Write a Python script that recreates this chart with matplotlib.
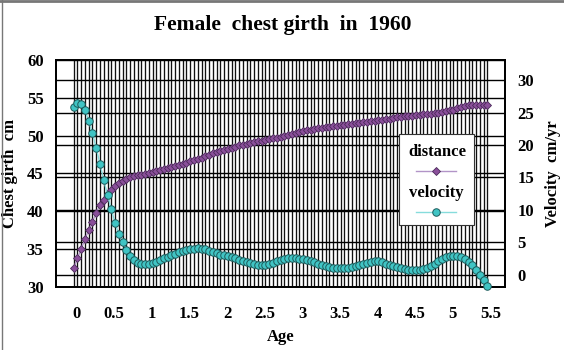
import numpy as np
import matplotlib
matplotlib.use("Agg")
import matplotlib.pyplot as plt
from matplotlib.lines import Line2D
from matplotlib.patches import Rectangle
from matplotlib.transforms import blended_transform_factory, ScaledTranslation

plt.rcParams['font.family'] = ['Liberation Serif', 'DejaVu Serif']
plt.rcParams['font.weight'] = 'bold'

# ages (years), one category every 0.05 yr
ages = np.round(np.arange(111) * 0.05, 2)

# chest girth distance (cm), left axis
distance = [
    32.5, 33.8, 35.0, 36.35, 37.5, 38.65, 39.8, 40.8, 41.5, 42.3,
    42.85, 43.35, 43.75, 44.05, 44.3, 44.5, 44.65, 44.75, 44.85, 44.95,
    45.05, 45.15, 45.3, 45.4, 45.55, 45.7, 45.85, 46.0, 46.15, 46.3,
    46.45, 46.6, 46.8, 46.95, 47.1, 47.3, 47.45, 47.65, 47.8, 47.95,
    48.1, 48.25, 48.4, 48.55, 48.7, 48.8, 48.95, 49.05, 49.15, 49.25,
    49.35, 49.45, 49.55, 49.65, 49.75, 49.85, 49.95, 50.05, 50.2, 50.35,
    50.5, 50.6, 50.7, 50.8, 50.85, 50.95, 51.0, 51.1, 51.2, 51.25,
    51.3, 51.4, 51.45, 51.5, 51.6, 51.65, 51.7, 51.8, 51.85, 51.9,
    52.0, 52.05, 52.1, 52.2, 52.25, 52.3, 52.4, 52.45, 52.55, 52.6,
    52.65, 52.7, 52.75, 52.8, 52.85, 52.9, 53.0, 53.05, 53.15, 53.25,
    53.35, 53.45, 53.6, 53.75, 53.9, 54.05, 54.1, 54.1, 54.1, 54.1,
    54.1,
]

# growth velocity (cm/yr), right axis
velocity = [
    25.9, 26.5, 26.3, 25.4, 23.7, 21.8, 19.5, 17.1, 14.6, 12.3,
    10.1, 8.05, 6.3, 5.0, 3.85, 2.9, 2.3, 1.9, 1.7, 1.65,
    1.7, 1.85, 2.05, 2.3, 2.55, 2.8, 3.05, 3.3, 3.5, 3.7,
    3.85, 3.95, 4.05, 4.1, 4.05, 3.95, 3.75, 3.55, 3.35, 3.15,
    3.0, 2.9, 2.75, 2.55, 2.35, 2.15, 2.0, 1.85, 1.7, 1.6,
    1.55, 1.6, 1.7, 1.9, 2.1, 2.3, 2.45, 2.55, 2.55, 2.55,
    2.5, 2.4, 2.3, 2.15, 1.95, 1.75, 1.55, 1.35, 1.2, 1.1,
    1.0, 1.0, 1.05, 1.15, 1.2, 1.35, 1.5, 1.7, 1.85, 2.0,
    2.1, 2.1, 1.95, 1.75, 1.55, 1.35, 1.2, 1.05, 0.9, 0.8,
    0.75, 0.75, 0.75, 0.85, 1.05, 1.35, 1.75, 2.15, 2.45, 2.75,
    2.9, 2.95, 2.95, 2.75, 2.45, 2.0, 1.5, 0.77, 0.0, -0.77,
    -1.7,
]

x_ticks = [0, 0.5, 1, 1.5, 2, 2.5, 3, 3.5, 4, 4.5, 5, 5.5]
x_ticklabels = ['0', '0.5', '1', '1.5', '2', '2.5', '3', '3.5', '4', '4.5', '5', '5.5']
left_ticks = [30, 35, 40, 45, 50, 55, 60]
right_ticks = [0, 5, 10, 15, 20, 25, 30]

DIST_LINE, DIST_FILL, DIST_EDGE = '#b294c7', '#8a4f9a', '#4b2a5a'
VEL_LINE, VEL_FILL, VEL_EDGE = '#86dcdc', '#40c4c4', '#1d5a5a'

fig = plt.figure(figsize=(5.64, 3.5), dpi=100)
ax = fig.add_axes([0.0993, 0.18, 0.7961, 0.6486])
ax2 = ax.twinx()

ax.set_xlim(-0.235, 5.735)
ax.set_ylim(30, 60)
ax2.set_ylim(-1.85, 33.08)

# grid: one vertical line per category, horizontal lines for both axes
for a in ages:
    ax.axvline(a, color='#111111', lw=0.95, zorder=1)
for t in left_ticks:
    ax.axhline(t, color='black', lw=1.0, zorder=1)
tr = blended_transform_factory(ax.transAxes, ax2.transData)
for t in right_ticks:
    ax.plot([0, 1], [t, t], transform=tr, color='black', lw=1.0, zorder=1)

ax.plot(ages, distance, color=DIST_LINE, lw=1.0, marker='D', ms=3.9,
        mfc=DIST_FILL, mec=DIST_EDGE, mew=0.6, zorder=3)
ax2.plot(ages, velocity, color=VEL_LINE, lw=1.0, marker='o', ms=5.4,
         mfc=VEL_FILL, mec=VEL_EDGE, mew=0.7, zorder=3, clip_on=False)

tick_font = dict(fontsize=12, fontweight='bold')
ax.set_xticks(x_ticks)
ax.set_xticklabels(x_ticklabels, **tick_font)
ax.set_yticks(left_ticks)
ax.set_yticklabels([str(t) for t in left_ticks], **tick_font)
ax2.set_yticks(right_ticks)
ax2.set_yticklabels([str(t) for t in right_ticks], **tick_font)
ax.tick_params(axis='x', length=0, pad=14)
ax.tick_params(axis='y', length=0, pad=9)
ax2.tick_params(axis='y', length=0, pad=9)
shift = ScaledTranslation(3 / 100, 0, fig.dpi_scale_trans)
for lbl in ax.get_xticklabels():
    lbl.set_transform(lbl.get_transform() + shift)

for a in (ax, ax2):
    for s in a.spines.values():
        s.set_linewidth(1.3)
        s.set_color('black')
ax2.patch.set_visible(False)

ax.set_xlabel('Age', fontsize=12, fontweight='bold', labelpad=5)
ax.set_ylabel('Chest girth  cm', fontsize=12, fontweight='bold', labelpad=6)
ax2.set_ylabel('Velocity  cm/yr', fontsize=12, fontweight='bold', labelpad=8)
fig.text(0.502, 0.928, 'Female  chest girth  in  1960', ha='center', va='center',
         fontsize=15.5, fontweight='bold')

# legend: label above each handle
ax2.add_patch(Rectangle((0.764, 0.273), 0.167, 0.401, transform=ax2.transAxes,
                        facecolor='white', edgecolor='#333333', lw=0.8, zorder=10))
ax2.text(0.850, 0.596, 'distance', transform=ax2.transAxes, ha='center', va='center',
         fontsize=12, fontweight='bold', zorder=11)
ax2.add_line(Line2D([0.802, 0.891], [0.511, 0.511], transform=ax2.transAxes,
                    color=DIST_LINE, lw=1.0, zorder=11))
ax2.add_line(Line2D([0.846], [0.511], transform=ax2.transAxes, ls='none', marker='D',
                    ms=3.9, mfc=DIST_FILL, mec=DIST_EDGE, mew=0.6, zorder=12))
ax2.text(0.848, 0.415, 'velocity', transform=ax2.transAxes, ha='center', va='center',
         fontsize=12, fontweight='bold', zorder=11)
ax2.add_line(Line2D([0.802, 0.891], [0.329, 0.329], transform=ax2.transAxes,
                    color=VEL_LINE, lw=1.0, zorder=11))
ax2.add_line(Line2D([0.846], [0.329], transform=ax2.transAxes, ls='none', marker='o',
                    ms=5.4, mfc=VEL_FILL, mec=VEL_EDGE, mew=0.7, zorder=12))

# outer chart frame (top and left edges show)
fig.add_artist(Line2D([0, 1], [0.996, 0.996], transform=fig.transFigure, color='#777777', lw=2.0))
fig.add_artist(Line2D([0.004, 0.004], [0, 1], transform=fig.transFigure, color='#777777', lw=1.0))

fig.savefig('out.png', dpi=100)
